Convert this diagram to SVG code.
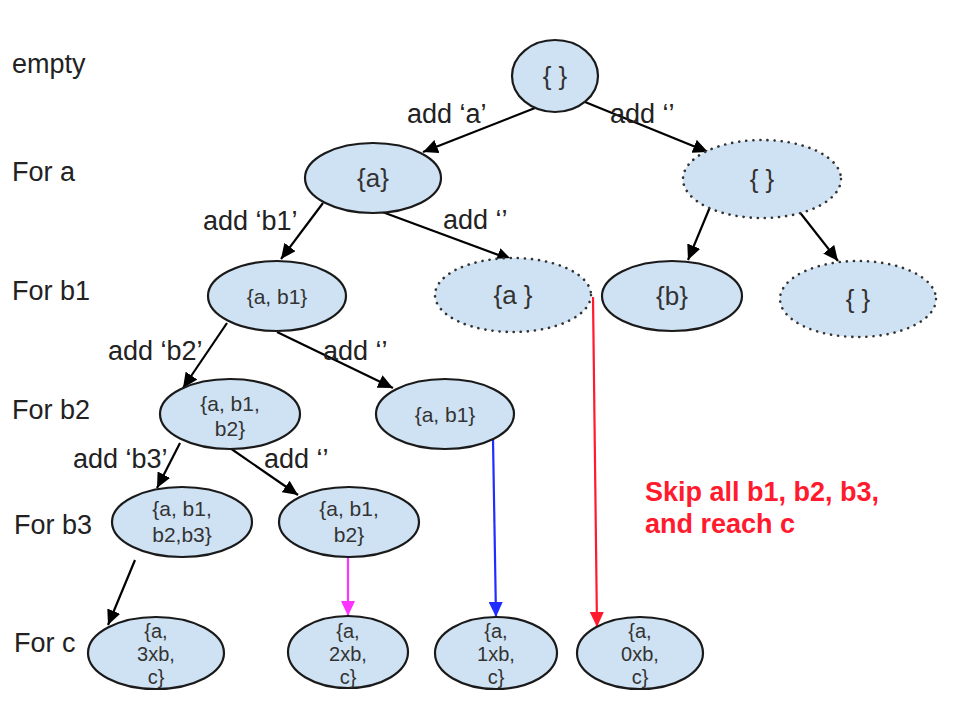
<svg xmlns="http://www.w3.org/2000/svg" width="960" height="708" viewBox="0 0 960 708">
<style>
.node{fill:#cfe2f3;stroke:#1a1a1a;stroke-width:2.2}
.dot{fill:#cfe2f3;stroke:#333;stroke-width:2.6;stroke-dasharray:0.1 7;stroke-linecap:round}
.t{font-family:"Liberation Sans",Arial,sans-serif;fill:#333;text-anchor:middle}
.big{font-size:26px}
.sm{font-size:21px}
.xs{font-size:20px}
.lbl{font-family:"Liberation Sans",Arial,sans-serif;font-size:27px;fill:#222}
.red{font-family:"Liberation Sans",Arial,sans-serif;font-size:27px;font-weight:bold;fill:#ff1a2e}
.e{fill:none;stroke-width:2.2}
</style>
<defs>
<marker id="ak" markerUnits="userSpaceOnUse" markerWidth="16" markerHeight="14" refX="15" refY="7" orient="auto"><path d="M0,0 L15,7 L0,14 z" fill="#000"/></marker>
<marker id="am" markerUnits="userSpaceOnUse" markerWidth="16" markerHeight="14" refX="15" refY="7" orient="auto"><path d="M0,0 L15,7 L0,14 z" fill="#ff33ff"/></marker>
<marker id="ab" markerUnits="userSpaceOnUse" markerWidth="16" markerHeight="14" refX="15" refY="7" orient="auto"><path d="M0,0 L15,7 L0,14 z" fill="#1f2dff"/></marker>
<marker id="ar" markerUnits="userSpaceOnUse" markerWidth="16" markerHeight="14" refX="15" refY="7" orient="auto"><path d="M0,0 L15,7 L0,14 z" fill="#ff1a2e"/></marker>
</defs>
<rect width="960" height="708" fill="#fff"/>

<g id="row-labels">
<text class="lbl" x="12" y="73">empty</text>
<text class="lbl" x="12" y="181">For a</text>
<text class="lbl" x="12" y="300">For b1</text>
<text class="lbl" x="12" y="419">For b2</text>
<text class="lbl" x="14" y="534">For b3</text>
<text class="lbl" x="14" y="652">For c</text>
</g>

<g id="connectors">
<line class="e" stroke="#000" x1="535" y1="108" x2="423" y2="152" marker-end="url(#ak)"/>
<line class="e" stroke="#000" x1="585" y1="102" x2="708" y2="152" marker-end="url(#ak)"/>
<line class="e" stroke="#000" x1="323" y1="203" x2="281" y2="259" marker-end="url(#ak)"/>
<line class="e" stroke="#000" x1="377" y1="210" x2="512" y2="260" marker-end="url(#ak)"/>
<line class="e" stroke="#000" x1="710" y1="207" x2="688" y2="260" marker-end="url(#ak)"/>
<line class="e" stroke="#000" x1="798" y1="210" x2="838" y2="261" marker-end="url(#ak)"/>
<line class="e" stroke="#000" x1="227" y1="323" x2="183" y2="388" marker-end="url(#ak)"/>
<line class="e" stroke="#000" x1="277" y1="332" x2="393" y2="388" marker-end="url(#ak)"/>
<line class="e" stroke="#000" x1="180" y1="443" x2="157" y2="488" marker-end="url(#ak)"/>
<line class="e" stroke="#000" x1="230" y1="448" x2="298" y2="495" marker-end="url(#ak)"/>
<line class="e" stroke="#000" x1="135" y1="560" x2="108" y2="625" marker-end="url(#ak)"/>
<line class="e" stroke="#ff33ff" x1="348" y1="557" x2="348" y2="616" marker-end="url(#am)"/>
<line class="e" stroke="#1f2dff" x1="493" y1="439" x2="496" y2="617" marker-end="url(#ab)"/>
<line class="e" stroke="#ff1a2e" x1="593" y1="297" x2="597" y2="627" marker-end="url(#ar)"/>
</g>

<g id="edge-labels">
<text class="lbl" x="407" y="123">add ‘a’</text>
<text class="lbl" x="610" y="123">add ‘’</text>
<text class="lbl" x="203" y="230">add ‘b1’</text>
<text class="lbl" x="443" y="229">add ‘’</text>
<text class="lbl" x="108" y="360">add ‘b2’</text>
<text class="lbl" x="323" y="360">add ‘’</text>
<text class="lbl" x="73" y="468">add ‘b3’</text>
<text class="lbl" x="264" y="468">add ‘’</text>
</g>

<g id="n-root"><ellipse class="node" cx="555" cy="76" rx="43" ry="36"/><text class="t big" x="555" y="85">{ }</text></g>
<g id="n-a"><ellipse class="node" cx="373" cy="178" rx="68" ry="35"/><text class="t big" x="373" y="187">{a}</text></g>
<g id="n-empty1"><ellipse class="dot" cx="762" cy="179" rx="79" ry="39"/><text class="t big" x="762" y="188">{ }</text></g>
<g id="n-ab1"><ellipse class="node" cx="277" cy="296" rx="69" ry="35"/><text class="t sm" x="277" y="304">{a, b1}</text></g>
<g id="n-a2"><ellipse class="dot" cx="513" cy="295" rx="78" ry="37"/><text class="t big" x="513" y="304">{a }</text></g>
<g id="n-b"><ellipse class="node" cx="672" cy="296" rx="70" ry="35"/><text class="t big" x="672" y="305">{b}</text></g>
<g id="n-empty2"><ellipse class="dot" cx="858" cy="299" rx="78" ry="38"/><text class="t big" x="858" y="308">{ }</text></g>
<g id="n-ab1b2"><ellipse class="node" cx="230" cy="414" rx="70" ry="35"/><text class="t sm" x="230" y="411">{a, b1,</text><text class="t sm" x="230" y="436">b2}</text></g>
<g id="n-ab1-2"><ellipse class="node" cx="445" cy="414" rx="69" ry="35"/><text class="t sm" x="445" y="422">{a, b1}</text></g>
<g id="n-ab1b2b3"><ellipse class="node" cx="182" cy="522" rx="70" ry="35"/><text class="t sm" x="182" y="516">{a, b1,</text><text class="t sm" x="182" y="542">b2,b3}</text></g>
<g id="n-ab1b2-2"><ellipse class="node" cx="349" cy="522" rx="70" ry="35"/><text class="t sm" x="349" y="516">{a, b1,</text><text class="t sm" x="349" y="542">b2}</text></g>
<g id="n-c3"><ellipse class="node" cx="156" cy="653" rx="68" ry="36"/><text class="t xs" x="156" y="638">{a,</text><text class="t xs" x="156" y="661">3xb,</text><text class="t xs" x="156" y="684">c}</text></g>
<g id="n-c2"><ellipse class="node" cx="348" cy="652" rx="60" ry="36"/><text class="t xs" x="348" y="638">{a,</text><text class="t xs" x="348" y="661">2xb,</text><text class="t xs" x="348" y="684">c}</text></g>
<g id="n-c1"><ellipse class="node" cx="496" cy="653" rx="61" ry="36"/><text class="t xs" x="496" y="638">{a,</text><text class="t xs" x="496" y="661">1xb,</text><text class="t xs" x="496" y="684">c}</text></g>
<g id="n-c0"><ellipse class="node" cx="640" cy="653" rx="63" ry="36"/><text class="t xs" x="640" y="638">{a,</text><text class="t xs" x="640" y="661">0xb,</text><text class="t xs" x="640" y="684">c}</text></g>

<g id="note">
<text class="red" x="645" y="501">Skip all b1, b2, b3,</text>
<text class="red" x="645" y="533">and reach c</text>
</g>
</svg>
